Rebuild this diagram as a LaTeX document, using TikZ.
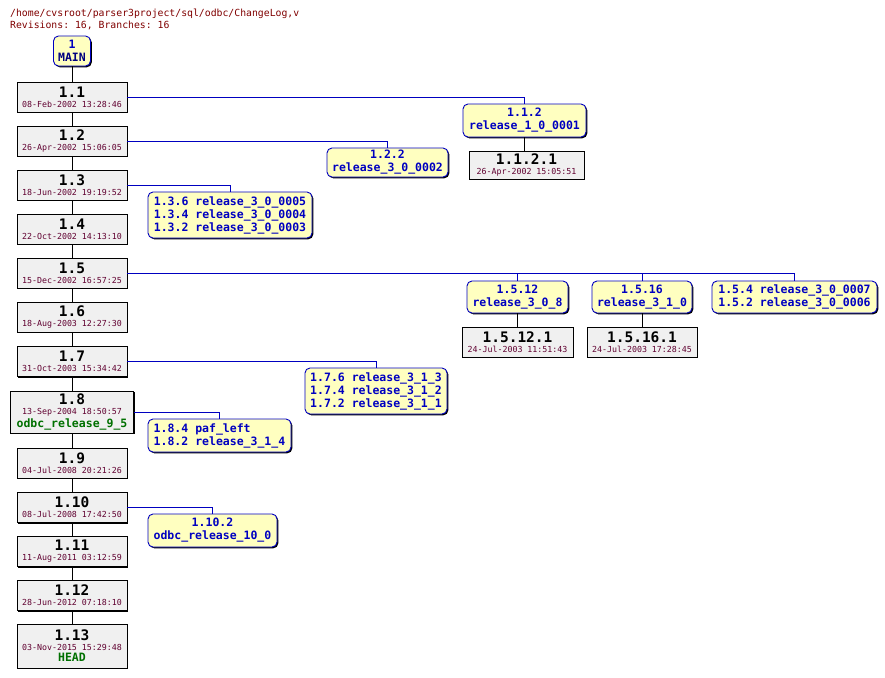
\documentclass[tikz,border=0pt]{standalone}
\usepackage{fontspec}
\setmonofont{DejaVu Sans Mono}
\usetikzlibrary{shadows}

\definecolor{revfill}{HTML}{F0F0F0}
\definecolor{tagfill}{HTML}{FFFFC0}
\definecolor{tagblue}{HTML}{0000C0}
\definecolor{navy}{HTML}{000080}
\definecolor{datered}{HTML}{600030}
\definecolor{headred}{HTML}{800000}
\definecolor{taggreen}{HTML}{007000}

\newcommand\revno[1]{{\fontsize{14.5}{14.5}\selectfont\bfseries\color{black}#1}}
\newcommand\revtag[1]{{\fontsize{11.5}{11.5}\selectfont\bfseries\color{taggreen}#1}}

\begin{document}
\begin{tikzpicture}[x=1pt, y=-1pt,
  font=\ttfamily,
  shade/.style={drop shadow={shadow xshift=1.3pt, shadow yshift=-1.3pt,
                opacity=1, fill=black}},
  rev/.style={draw, fill=revfill, line width=0.9pt, shade, inner sep=0pt,
              align=center, minimum width=110pt, minimum height=30pt,
              text=datered, font=\fontsize{8.3}{10}\selectfont\ttfamily},
  brbox/.style={draw=tagblue, fill=tagfill, line width=0.9pt, shade,
                rounded corners=5pt, inner sep=0pt, align=center,
                minimum height=32pt, text=tagblue,
                font=\fontsize{11.5}{13}\selectfont\ttfamily\bfseries},
  trunk/.style={line width=0.9pt},
  fork/.style={draw=tagblue, line width=0.9pt}]

  \useasboundingbox[fill=white] (0,0) rectangle (885,677);

  % header
  \node[anchor=base west, inner sep=0pt, text=headred,
        font=\fontsize{9.8}{12}\selectfont\ttfamily]
    (path) at (10,17) {/home/cvsroot/parser3project/sql/odbc/ChangeLog,v};
  \node[anchor=base west, inner sep=0pt, text=headred,
        font=\fontsize{9.8}{12}\selectfont\ttfamily]
    (count) at (10,29) {Revisions: 16, Branches: 16};

  % trunk
  \node[brbox, text=navy, minimum width=37pt, minimum height=30pt]
    (main) at (72,51) {{\color{tagblue}1}\\MAIN};
  \node[rev] (r11) at (72,97) {\revno{1.1}\\08-Feb-2002 13:28:46};
  \node[rev] (r12) at (72,141) {\revno{1.2}\\26-Apr-2002 15:06:05};
  \node[rev] (r13) at (72,185) {\revno{1.3}\\18-Jun-2002 19:19:52};
  \node[rev] (r14) at (72,229) {\revno{1.4}\\22-Oct-2002 14:13:10};
  \node[rev] (r15) at (72,273) {\revno{1.5}\\15-Dec-2002 16:57:25};
  \node[rev] (r16) at (72,317) {\revno{1.6}\\18-Aug-2003 12:27:30};
  \node[rev] (r17) at (72,361.5) {\revno{1.7}\\31-Oct-2003 15:34:42};
  \node[rev, minimum width=123pt, minimum height=42pt]
    (r18) at (72,412) {\revno{1.8}\\13-Sep-2004 18:50:57\\[1pt]\revtag{odbc\_release\_9\_5}};
  \node[rev] (r19) at (72,463) {\revno{1.9}\\04-Jul-2008 20:21:26};
  \node[rev] (r110) at (72,507.5) {\revno{1.10}\\08-Jul-2008 17:42:50};
  \node[rev] (r111) at (72,551.5) {\revno{1.11}\\11-Aug-2011 03:12:59};
  \node[rev] (r112) at (72,595.5) {\revno{1.12}\\28-Jun-2012 07:18:10};
  \node[rev, minimum height=44pt]
    (r113) at (72,646) {\revno{1.13}\\03-Nov-2015 15:29:48\\[1pt]\revtag{HEAD}};

  % branches
  \node[brbox, minimum width=123pt, minimum height=33pt]
    (b112) at (524.5,120.5) {1.1.2\\release\_1\_0\_0001};
  \node[rev, minimum width=115pt, minimum height=28pt]
    (r1121) at (526.5,165) {\revno{1.1.2.1}\\26-Apr-2002 15:05:51};
  \node[brbox, minimum width=121pt, minimum height=29pt]
    (b122) at (387.5,162.5) {1.2.2\\release\_3\_0\_0002};
  \node[brbox, align=left, minimum width=164pt, minimum height=46pt]
    (b13) at (230,215) {1.3.6 release\_3\_0\_0005\\1.3.4 release\_3\_0\_0004\\1.3.2 release\_3\_0\_0003};
  \node[brbox, minimum width=101pt]
    (b1512) at (517.5,297) {1.5.12\\release\_3\_0\_8};
  \node[rev, minimum width=111pt]
    (r15121) at (517.5,342) {\revno{1.5.12.1}\\24-Jul-2003 11:51:43};
  \node[brbox, minimum width=100pt]
    (b1516) at (642,297) {1.5.16\\release\_3\_1\_0};
  \node[rev]
    (r15161) at (642,342) {\revno{1.5.16.1}\\24-Jul-2003 17:28:45};
  \node[brbox, align=left, minimum width=165pt]
    (b154) at (794.5,297) {1.5.4 release\_3\_0\_0007\\1.5.2 release\_3\_0\_0006};
  \node[brbox, align=left, minimum width=142pt, minimum height=46pt]
    (b17) at (376,391) {1.7.6 release\_3\_1\_3\\1.7.4 release\_3\_1\_2\\1.7.2 release\_3\_1\_1};
  \node[brbox, align=left, minimum width=143pt, minimum height=33pt]
    (b18) at (219.5,435.5) {1.8.4 paf\_left\\1.8.2 release\_3\_1\_4};
  \node[brbox, minimum width=129pt, minimum height=33pt]
    (b110) at (212.5,530.5) {1.10.2\\odbc\_release\_10\_0};

  % trunk links
  \draw[trunk] (main) -- (r11);
  \draw[trunk] (r11) -- (r12);
  \draw[trunk] (r12) -- (r13);
  \draw[trunk] (r13) -- (r14);
  \draw[trunk] (r14) -- (r15);
  \draw[trunk] (r15) -- (r16);
  \draw[trunk] (r16) -- (r17);
  \draw[trunk] (r17) -- (r18);
  \draw[trunk] (r18) -- (r19);
  \draw[trunk] (r19) -- (r110);
  \draw[trunk] (r110) -- (r111);
  \draw[trunk] (r111) -- (r112);
  \draw[trunk] (r112) -- (r113);
  \draw[trunk] (b112.south) -- (b112.south |- r1121.north);
  \draw[trunk] (b1512) -- (r15121);
  \draw[trunk] (b1516) -- (r15161);

  % branch forks
  \draw[fork] (r11.east) -| (b112.north);
  \draw[fork] (r12.east) -| (b122.north);
  \draw[fork] (r13.east) -| (b13.north);
  \draw[fork] (r15.east) -| (b1512.north);
  \draw[fork] (r15.east) -| (b1516.north);
  \draw[fork] (r15.east) -| (b154.north);
  \draw[fork] (r17.east) -| (b17.north);
  \draw[fork] (r18.east) -| (b18.north);
  \draw[fork] (r110.east) -| (b110.north);
\end{tikzpicture}
\end{document}
